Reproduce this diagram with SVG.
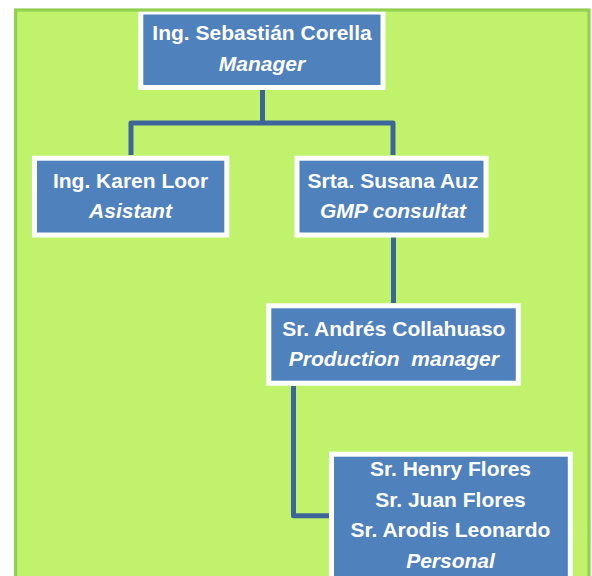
<svg xmlns="http://www.w3.org/2000/svg" width="592" height="576" viewBox="0 0 592 576">
<style>
.bg{fill:#c0f26b}
.frame{fill:none;stroke:#92d050;stroke-width:3.2}
.box{fill:#4f81bd;stroke:#ffffff;stroke-width:5}
.t{font-family:"Liberation Sans",Arial,sans-serif;font-size:21px;font-weight:bold;fill:#ffffff;text-anchor:middle;white-space:pre}
.i{font-style:italic}
.c{fill:none;stroke:#3d659a;stroke-width:5;stroke-linejoin:round}
</style>
<rect width="592" height="576" fill="#ffffff"/>
<rect class="bg" x="15.6" y="10" width="573.4" height="580"/>
<g id="connectors">
<path class="c" d="M262.5,88 V123 M131,155 V123 H393 V155"/>
<path class="c" d="M393.5,237 V303"/>
<path class="c" d="M293.5,386 V515.7 H330"/>
</g>
<g id="n1">
<rect class="box" x="140.8" y="12" width="242.2" height="75.5"/>
<text class="t" x="262" y="40">Ing. Sebastián Corella</text>
<text class="t i" x="262" y="71">Manager</text>
</g>
<g id="n2">
<rect class="box" x="34.5" y="158.2" width="192.3" height="76.8"/>
<text class="t" x="130.5" y="187.7">Ing. Karen Loor</text>
<text class="t i" x="130.5" y="218.3">Asistant</text>
</g>
<g id="n3">
<rect class="box" x="297" y="158.2" width="189" height="76.8"/>
<text class="t" x="393" y="187.7">Srta. Susana Auz</text>
<text class="t i" x="393" y="218.3">GMP consultat</text>
</g>
<g id="n4">
<rect class="box" x="268.8" y="305.8" width="249.5" height="77.4"/>
<text class="t" x="393.8" y="335.7">Sr. Andrés Collahuaso</text>
<text class="t i" x="393.8" y="366">Production  manager</text>
</g>
<g id="n5">
<rect class="box" x="331.5" y="454.2" width="238.8" height="150"/>
<text class="t" x="450.5" y="476">Sr. Henry Flores</text>
<text class="t" x="450.5" y="506.7">Sr. Juan Flores</text>
<text class="t" x="450.5" y="537.3">Sr. Arodis Leonardo</text>
<text class="t i" x="450.5" y="568.3">Personal</text>
</g>
<rect class="frame" x="15.6" y="10" width="573.4" height="580"/>
</svg>
